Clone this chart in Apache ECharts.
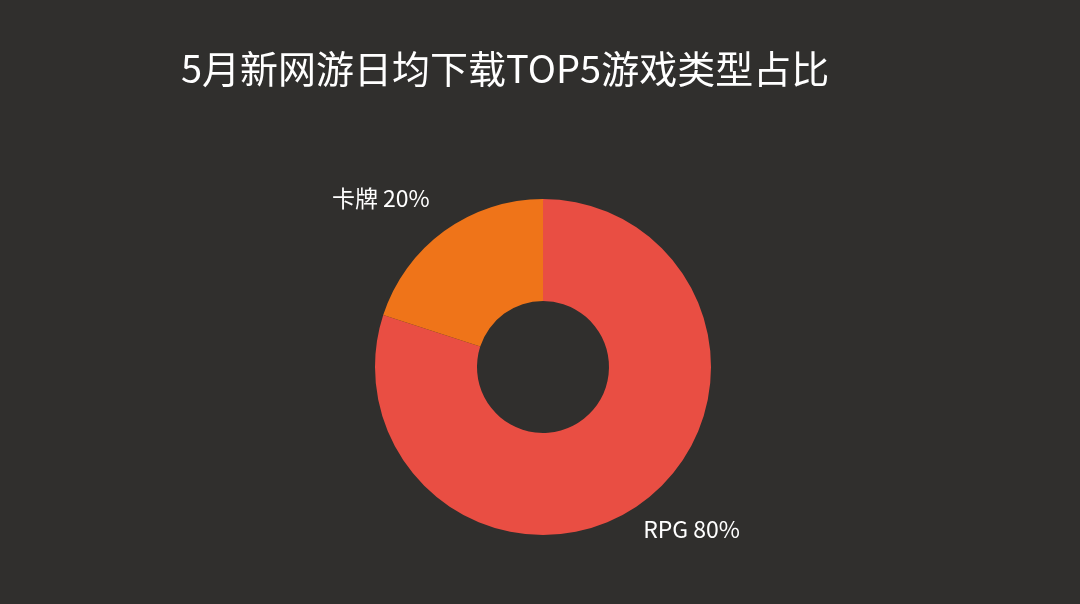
<!DOCTYPE html>
<html>
<head>
<meta charset="utf-8">
<style>
  html, body { margin: 0; padding: 0; background: #302f2d; }
  #main { width: 1080px; height: 604px; }
</style>
<script src="https://cdn.jsdelivr.net/npm/echarts@6/dist/echarts.min.js"></script>
</head>
<body>
<div id="main"></div>
<script>
// 数据
var categories = ['RPG', '卡牌'];
var shares = [80, 20];
var colors = ['#e94e43', '#ef7419'];

var chart = echarts.init(document.getElementById('main'));

var option = {
  backgroundColor: '#302f2d',
  title: {
    text: '5月新网游日均下载TOP5游戏类型占比',
    left: 176,
    top: 45,
    textStyle: {
      color: '#ffffff',
      fontSize: 38,
      fontWeight: 'normal',
      fontFamily: 'Noto Sans CJK SC'
    }
  },
  color: colors,
  series: [{
    type: 'pie',
    center: [543, 367],
    radius: [66, 168],
    startAngle: 90,
    clockwise: true,
    animation: false,
    data: categories.map(function (c, i) {
      return {
        name: c,
        value: shares[i],
        // 标签往回收一点
        labelLine: i === 0 ? { length: 33, length2: -18 } : { length: 40, length2: -9 }
      };
    }),
    label: {
      show: true,
      position: 'outside',
      formatter: '{b} {c}%',
      color: '#ffffff',
      fontSize: 23,
      fontFamily: 'Noto Sans CJK SC',
      distanceToLabelLine: 0
    },
    labelLine: {
      show: false,
      length: 40,
      length2: 0
    }
  }]
};

chart.setOption(option);
</script>
</body>
</html>
